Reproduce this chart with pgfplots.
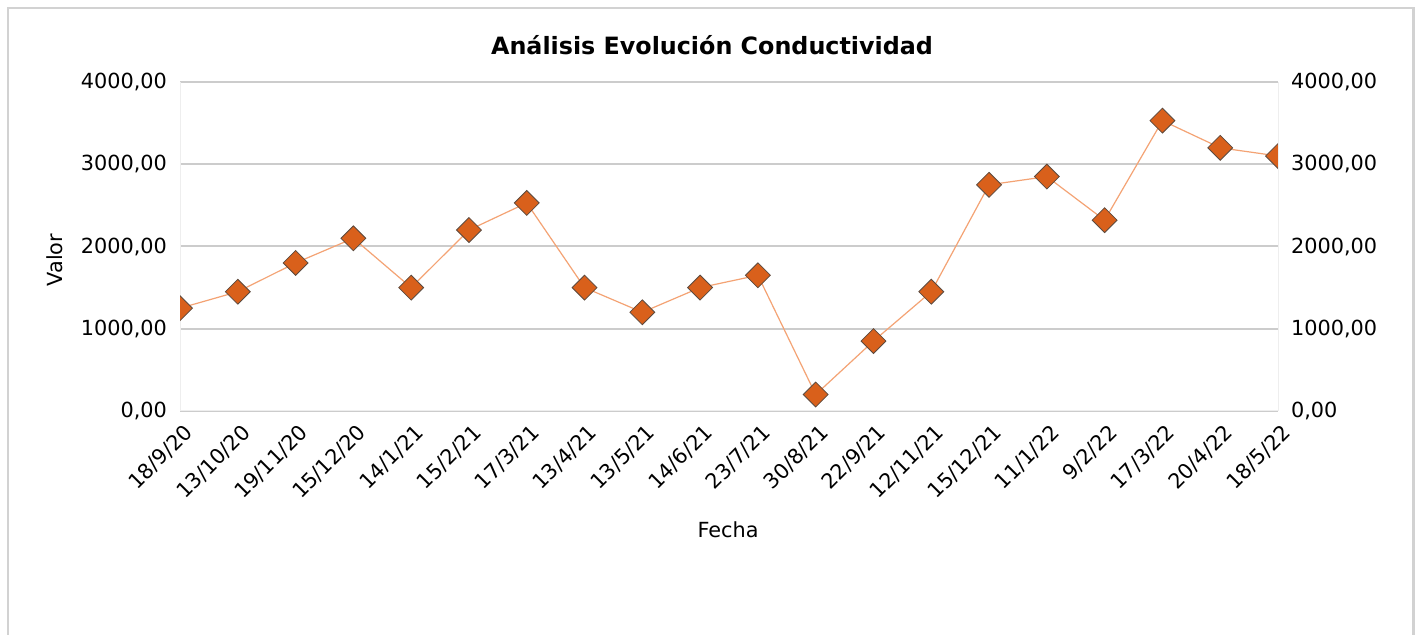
\documentclass[border=0pt]{standalone}
\usepackage{pgfplots}
\usepackage{pgfplotstable}
\pgfplotsset{compat=1.18}
\usepackage{fontspec}
\setmainfont{DejaVu Sans}
\definecolor{mk}{HTML}{D9601B}
\definecolor{mkedge}{HTML}{5B4A3F}
\definecolor{ln}{HTML}{F4A374}
\definecolor{grd}{HTML}{CCCCCC}
\definecolor{frm}{HTML}{D2D2D2}
\definecolor{vax}{HTML}{EEEEEE}
\pgfplotstableread{
x y
0 1250
1 1450
2 1800
3 2100
4 1500
5 2200
6 2530
7 1500
8 1200
9 1500
10 1650
11 200
12 850
13 1450
14 2750
15 2850
16 2320
17 3530
18 3200
19 3100
}\datatable
\begin{document}
\begin{tikzpicture}[font=\fontsize{10.4pt}{12.5pt}\selectfont]
\path[use as bounding box, fill=white] (0,0) rectangle (711.5pt,317.5pt);
\draw[frm, line width=1.3pt] (4pt,-10pt) -- (4pt,313.5pt) -- (706.8pt,313.5pt) -- (706.8pt,-10pt);
\node[font=\fontsize{11.9pt}{14pt}\selectfont\bfseries] at (356pt,295pt) {Análisis Evolución Conductividad};
\node[rotate=90] at (27.5pt,187.5pt) {Valor};
\node at (364pt,52.5pt) {Fecha};
\begin{axis}[
  at={(90pt,112pt)}, anchor=south west,
  scale only axis, width=549pt, height=164.5pt,
  xmin=0, xmax=19, ymin=0, ymax=4000,
  axis line style={vax, line width=0.5pt},
  axis x line*=bottom, axis y line*=left,
  xtick=data,
  xticklabels={18/9/20,13/10/20,19/11/20,15/12/20,14/1/21,15/2/21,17/3/21,13/4/21,13/5/21,14/6/21,23/7/21,30/8/21,22/9/21,12/11/21,15/12/21,11/1/22,9/2/22,17/3/22,20/4/22,18/5/22},
  xticklabel style={rotate=45, anchor=north east, inner sep=1pt, xshift=-2pt, yshift=-4pt},
  ytick={0,1000,2000,3000,4000},
  major tick length=0pt,
  ymajorgrids, grid style={grd, line width=1pt},
  yticklabel style={xshift=-3pt, /pgf/number format/.cd, fixed, fixed zerofill, precision=2, use comma, 1000 sep={}, assume math mode=true},
  clip marker paths=true,
]
\addplot[ln, line width=0.6pt, mark=square*, mark size=4.4pt,
  mark options={rotate=45, fill=mk, draw=mkedge, line width=0.4pt}] table[x=x, y=y] {\datatable};
\end{axis}
\begin{axis}[
  at={(90pt,112pt)}, anchor=south west,
  scale only axis, width=549pt, height=164.5pt,
  xmin=0, xmax=19, ymin=0, ymax=4000,
  axis line style={vax, line width=0.5pt},
  axis x line=none, axis y line*=right,
  ytick={0,1000,2000,3000,4000},
  major tick length=0pt,
  yticklabel style={xshift=3pt, /pgf/number format/.cd, fixed, fixed zerofill, precision=2, use comma, 1000 sep={}, assume math mode=true},
]
\end{axis}
\end{tikzpicture}
\end{document}
